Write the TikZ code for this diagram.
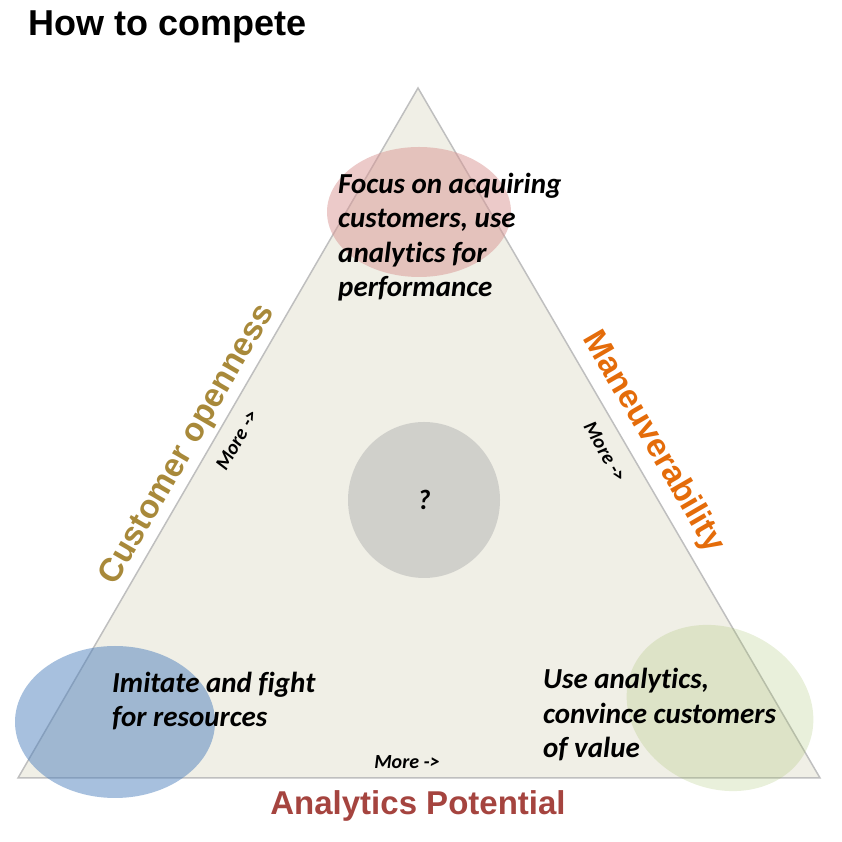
\documentclass[tikz,border=0pt]{standalone}
\usepackage{fontspec}
\setmainfont{Liberation Sans}
\newfontfamily\calib[Ligatures={NoCommon,NoContextual,NoRare}]{Carlito}
\definecolor{trifill}{HTML}{F0EFE6}
\definecolor{triline}{HTML}{BFBFBF}
\definecolor{redell}{HTML}{D99694}
\definecolor{blueell}{HTML}{4F81BD}
\definecolor{greenell}{HTML}{9BBB59}
\definecolor{goldtxt}{HTML}{A8893A}
\definecolor{orangetxt}{HTML}{E46C0A}
\definecolor{redtxt}{HTML}{A5443F}
\tikzset{
  body/.style={font=\calib\bfseries\itshape\fontsize{29}{34.5}\selectfont, inner sep=0pt, align=left, anchor=base west},
  more/.style={font=\calib\bfseries\itshape\fontsize{20}{24}\selectfont, inner sep=0pt},
  axis/.style={font=\bfseries\fontsize{33}{38}\selectfont, inner sep=0pt},
}
\begin{document}
\begin{tikzpicture}[x=1pt,y=1pt]
\useasboundingbox (0,0) rectangle (841,842);
% triangle
\coordinate (apex) at (418,754);
\coordinate (bl) at (18,64);
\coordinate (br) at (820,64);
\filldraw[fill=trifill, draw=triline, line width=1.5pt, line join=miter] (apex) -- (bl) -- (br) -- cycle;
% ellipses
\fill[redell, opacity=0.5] (419,630) ellipse [x radius=92pt, y radius=65pt];
\fill[black!30, opacity=0.5] (424,342) ellipse [x radius=76pt, y radius=78pt];
\fill[blueell, opacity=0.5] (115,120) ellipse [x radius=100pt, y radius=76pt];
\fill[greenell, opacity=0.22, rotate around={-25:(720,134)}] (720,134) ellipse [x radius=96pt, y radius=80pt];
% title
\node[font=\bfseries\fontsize{36}{40}\selectfont, inner sep=0pt, anchor=base west] (title) at (28,806) {How to compete};
% texts (base anchor = last line baseline)
\node[body] (top) at (338,545) {Focus on acquiring\\customers, use\\analyt\kern0pt ics for\\performance};
\node[body] (left) at (112,115) {Imitate and figh\kern0pt t\\for resources};
\node[body] (right) at (543,84) {Use analyt\kern0pt ics,\\convince customers\\of value};
\node[font=\calib\bfseries\itshape\fontsize{28}{34}\selectfont, inner sep=0pt] (q) at (424,342) {?};
% More labels
\node[more] (mb) at (407,80) {More ->};
\node[more, rotate=60] (ml) at (237,402) {More ->};
\node[more, rotate=-60] (mr) at (605,390) {More ->};
% axis labels
\node[axis, text=redtxt, anchor=base] (ap) at (418,27) {Analytics Potential};
\node[axis, text=goldtxt, rotate=59.9] (co) at (188,397) {Customer openness};
\node[axis, text=orangetxt, rotate=-59.8] (mv) at (653,400) {Maneuverability};
\end{tikzpicture}
\end{document}
